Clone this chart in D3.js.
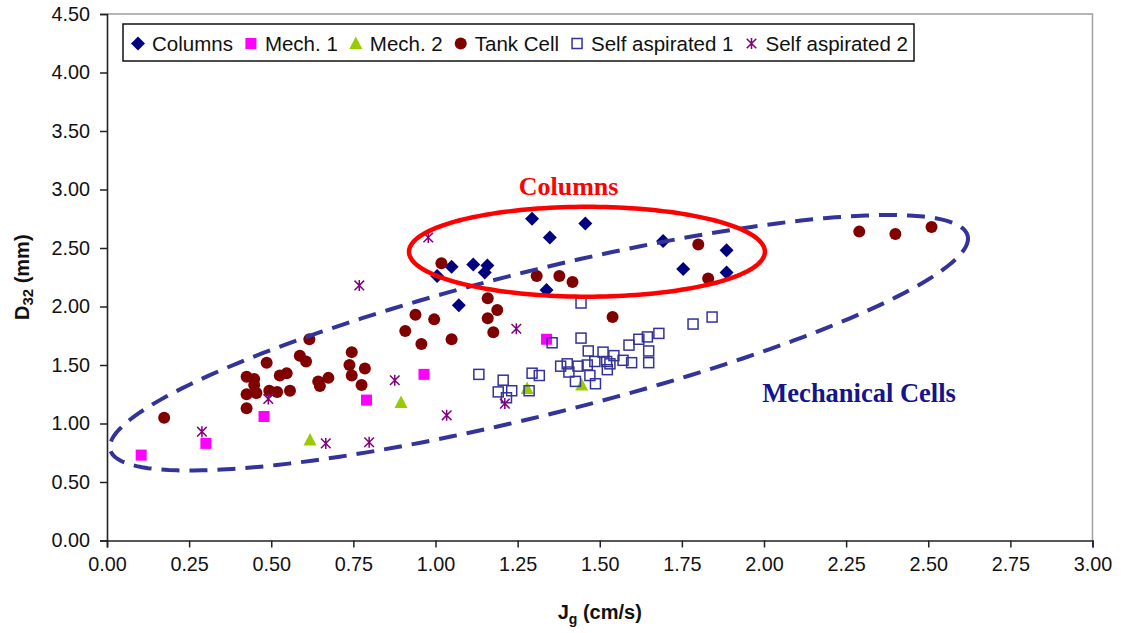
<!DOCTYPE html>
<html><head><meta charset="utf-8">
<script src="https://cdn.jsdelivr.net/npm/d3@7"></script>
<style>body{margin:0;background:#fff;} svg{display:block;font-family:"Liberation Sans",Arial,sans-serif;}</style>
</head><body>
<svg id="chart" width="1125" height="633"></svg>
<script>
// ---------------- data ----------------
const seriesNames = ["Columns", "Mech. 1", "Mech. 2", "Tank Cell", "Self aspirated 1", "Self aspirated 2"];

const columnsJg  = [1.005, 1.049, 1.115, 1.158, 1.150, 1.071, 1.294, 1.348, 1.456, 1.338, 1.693, 1.754, 1.886, 1.886];
const columnsD32 = [2.26, 2.34, 2.36, 2.35, 2.29, 2.01, 2.75, 2.59, 2.71, 2.14, 2.56, 2.32, 2.48, 2.29];

const mech1Jg  = [0.104, 0.301, 0.478, 0.790, 0.965, 1.338];
const mech1D32 = [0.73, 0.83, 1.06, 1.20, 1.42, 1.72];

const mech2Jg  = [0.618, 0.895, 1.279, 1.445];
const mech2D32 = [0.86, 1.18, 1.30, 1.33];

const tankJg  = [0.174, 0.425, 0.425, 0.425, 0.448, 0.448, 0.455, 0.486, 0.494, 0.518, 0.526, 0.547, 0.557,
                 0.587, 0.606, 0.616, 0.643, 0.648, 0.674, 0.738, 0.745, 0.745, 0.775, 0.785, 0.908, 0.939,
                 0.957, 0.996, 1.018, 1.049, 1.159, 1.188, 1.159, 1.176, 1.308, 1.377, 1.417, 1.539, 1.800,
                 1.830, 2.290, 2.400, 2.510];
const tankD32 = [1.05, 1.13, 1.25, 1.40, 1.38, 1.33, 1.26, 1.52, 1.28, 1.27, 1.41, 1.43, 1.28,
                 1.58, 1.53, 1.72, 1.36, 1.32, 1.39, 1.50, 1.61, 1.41, 1.33, 1.47, 1.79, 1.93,
                 1.68, 1.89, 2.37, 1.72, 2.07, 1.97, 1.90, 1.78, 2.26, 2.26, 2.21, 1.91, 2.53,
                 2.24, 2.64, 2.62, 2.68];

const sa1Jg  = [1.443, 1.355, 1.443, 1.132, 1.206, 1.191, 1.232, 1.216, 1.285, 1.294, 1.316, 1.381, 1.401,
                1.406, 1.434, 1.426, 1.465, 1.462, 1.470, 1.487, 1.485, 1.510, 1.521, 1.531, 1.523, 1.543,
                1.571, 1.597, 1.589, 1.619, 1.645, 1.680, 1.649, 1.649, 1.784, 1.842];
const sa1D32 = [2.03, 1.69, 1.73, 1.42, 1.37, 1.27, 1.28, 1.22, 1.28, 1.43, 1.41, 1.49, 1.51,
                1.44, 1.49, 1.36, 1.62, 1.50, 1.41, 1.34, 1.53, 1.61, 1.53, 1.51, 1.46, 1.58,
                1.54, 1.52, 1.67, 1.72, 1.74, 1.77, 1.62, 1.52, 1.85, 1.91];

const sa2Jg  = [0.289, 0.491, 0.666, 0.768, 0.798, 0.876, 0.978, 1.034, 1.211, 1.246];
const sa2D32 = [0.93, 1.21, 0.83, 2.18, 0.84, 1.37, 2.59, 1.07, 1.17, 1.81];

const xTicks = [0, 0.25, 0.5, 0.75, 1.0, 1.25, 1.5, 1.75, 2.0, 2.25, 2.5, 2.75, 3.0];
const yTicks = [0, 0.5, 1.0, 1.5, 2.0, 2.5, 3.0, 3.5, 4.0, 4.5];

// annotation ellipses (data units: centre, two semi-axis vectors)
const columnsEllipse = {c: [1.461, 2.468], u: [0.5417, 0], v: [0, 0.384], label: "Columns", labelAt: [1.405, 2.95]};
const mechEllipse = {c: [1.315, 1.69], u: [1.305, 0.915], v: [0.0532, -0.596], label: "Mechanical Cells", labelAt: [1.995, 1.18]};

// ---------------- chart ----------------
const svg = d3.select("#chart");
const x = d3.scaleLinear().domain([0, 3]).range([107, 1092.5]);
const y = d3.scaleLinear().domain([0, 4.5]).range([540.5, 14]);

// plot area border (grey top/right)
svg.append("path")
  .attr("d", `M${x(0)},${y(4.5)}H${x(3)}V${y(0)}`)
  .attr("fill", "none").attr("stroke", "#a0a0a0").attr("stroke-width", 1.5);

// axes
const xAxis = svg.append("g").attr("transform", `translate(0,${y(0)})`)
  .call(d3.axisBottom(x).tickValues(xTicks).tickFormat(d3.format(".2f")).tickSizeOuter(0).tickSize(7).tickPadding(9));
const yAxis = svg.append("g").attr("transform", `translate(${x(0)},0)`)
  .call(d3.axisLeft(y).tickValues(yTicks).tickFormat(d3.format(".2f")).tickSizeOuter(0).tickSize(7).tickPadding(10));
[xAxis, yAxis].forEach(g => {
  g.select(".domain").attr("stroke", "#222").attr("stroke-width", 1.6);
  g.selectAll(".tick line").attr("stroke", "#222").attr("stroke-width", 1.5);
  g.selectAll(".tick text").attr("font-size", "19.8px").attr("fill", "#111")
    .attr("font-family", "'Liberation Sans', Arial, sans-serif");
});

// axis titles
const xt = svg.append("text").attr("x", (x(0) + x(3)) / 2).attr("y", 619).attr("text-anchor", "middle")
  .attr("font-size", "20px").attr("font-weight", "bold").attr("fill", "#111");
xt.append("tspan").text("J");
xt.append("tspan").attr("font-size", "14px").attr("dy", 5).text("g");
xt.append("tspan").attr("dy", -5).text(" (cm/s)");

const yt = svg.append("text").attr("transform", `translate(29,${(y(0) + y(4.5)) / 2}) rotate(-90)`)
  .attr("text-anchor", "middle").attr("font-size", "20px").attr("font-weight", "bold").attr("fill", "#111");
yt.append("tspan").text("D");
yt.append("tspan").attr("font-size", "15px").attr("dy", 4).text("32");
yt.append("tspan").attr("dy", -4).text(" (mm)");

// markers
const markers = {
  "Columns": g => g.append("path").attr("d", "M0,-7L7,0L0,7L-7,0Z").attr("fill", "#000080"),
  "Mech. 1": g => g.append("rect").attr("x", -5.5).attr("y", -5.5).attr("width", 11).attr("height", 11).attr("fill", "#ff00ff"),
  "Mech. 2": g => g.append("path").attr("d", "M0,-7L6.5,5.5L-6.5,5.5Z").attr("fill", "#99cc00"),
  "Tank Cell": g => g.append("circle").attr("r", 6).attr("fill", "#800000"),
  "Self aspirated 1": g => g.append("rect").attr("x", -5).attr("y", -5).attr("width", 10).attr("height", 10)
      .attr("fill", "none").attr("stroke", "#333399").attr("stroke-width", 1.5),
  "Self aspirated 2": g => g.append("path").attr("d", "M0,-5.5V5.5M-4.8,-4.8L4.8,4.8M-4.8,4.8L4.8,-4.8")
      .attr("fill", "none").attr("stroke", "#800080").attr("stroke-width", 1.5)
};

const series = [
  [seriesNames[0], columnsJg, columnsD32],
  [seriesNames[1], mech1Jg, mech1D32],
  [seriesNames[2], mech2Jg, mech2D32],
  [seriesNames[3], tankJg, tankD32],
  [seriesNames[4], sa1Jg, sa1D32],
  [seriesNames[5], sa2Jg, sa2D32]
];

series.forEach(([name, xs, ys]) => {
  const g = svg.append("g").attr("class", "series");
  xs.forEach((v, i) => {
    const m = g.append("g").attr("transform", `translate(${x(v)},${y(ys[i])})`);
    markers[name](m);
  });
});

// ellipses
function ellipsePath(e) {
  const pts = d3.range(0, 361, 2).map(a => {
    const t = a * Math.PI / 180;
    return [e.c[0] + e.u[0] * Math.cos(t) + e.v[0] * Math.sin(t),
            e.c[1] + e.u[1] * Math.cos(t) + e.v[1] * Math.sin(t)];
  });
  return d3.line().x(d => x(d[0])).y(d => y(d[1]))(pts) + "Z";
}
svg.append("path").attr("d", ellipsePath(mechEllipse)).attr("fill", "none")
  .attr("stroke", "#333399").attr("stroke-width", 4).attr("stroke-dasharray", "18 10");
svg.append("path").attr("d", ellipsePath(columnsEllipse)).attr("fill", "none")
  .attr("stroke", "#ff0000").attr("stroke-width", 4.5);

svg.append("text").attr("x", x(columnsEllipse.labelAt[0])).attr("y", y(columnsEllipse.labelAt[1]))
  .attr("text-anchor", "middle").attr("font-family", "'Liberation Serif','Times New Roman',serif")
  .attr("font-weight", "bold").attr("font-size", "26px").attr("fill", "#ff0000").text(columnsEllipse.label);
svg.append("text").attr("x", x(mechEllipse.labelAt[0])).attr("y", y(mechEllipse.labelAt[1]))
  .attr("font-family", "'Liberation Serif','Times New Roman',serif")
  .attr("font-weight", "bold").attr("font-size", "26.5px").attr("fill", "#14148c").text(mechEllipse.label);

// legend
const legend = svg.append("g");
legend.append("rect").attr("x", 123).attr("y", 24).attr("width", 791).attr("height", 37)
  .attr("fill", "#fff").attr("stroke", "#111").attr("stroke-width", 1.5);
let cursor = 131;
seriesNames.forEach(name => {
  const m = legend.append("g").attr("transform", `translate(${cursor + 7},43.5)`);
  markers[name](m);
  const t = legend.append("text").attr("x", cursor + 21).attr("y", 50.5)
    .attr("font-size", "20.5px").attr("fill", "#111").text(name);
  cursor = cursor + 21 + t.node().getComputedTextLength() + 11;
});
</script>
</body></html>
